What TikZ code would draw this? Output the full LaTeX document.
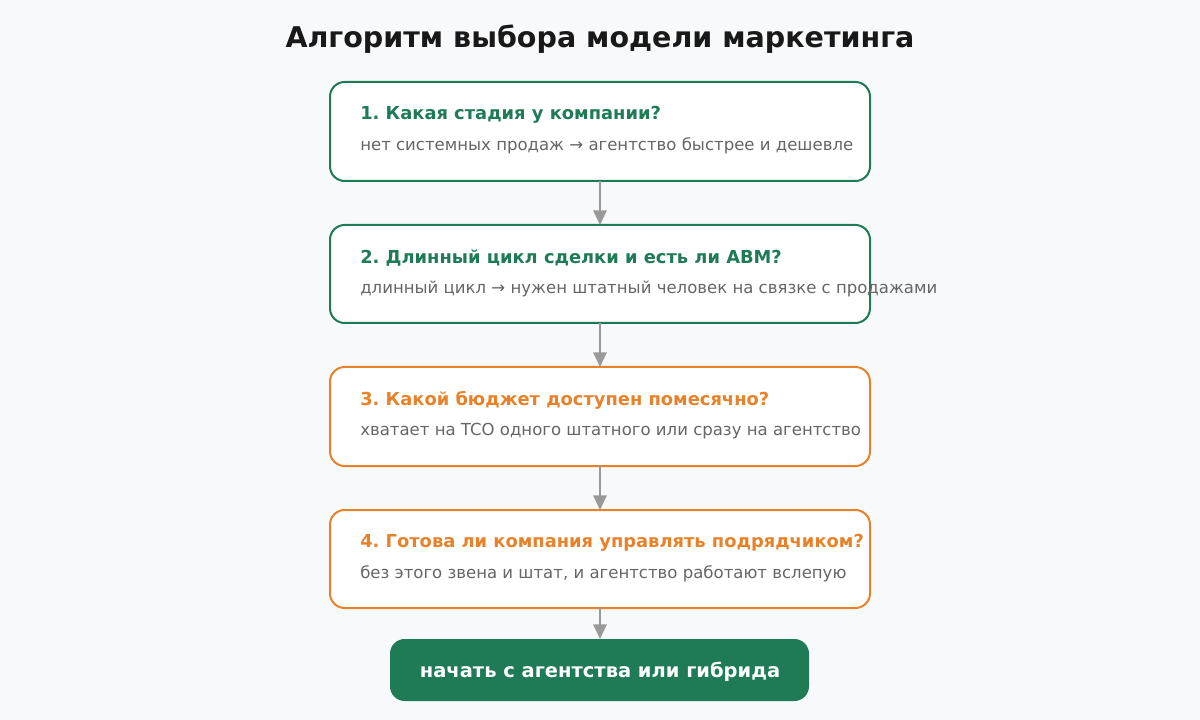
\documentclass[tikz,border=0pt]{standalone}
\usepackage{fontspec}
\setmainfont{DejaVu Sans}
\usetikzlibrary{arrows.meta}
\definecolor{grn}{HTML}{1E7B55}
\definecolor{org}{HTML}{E8822A}
\definecolor{bg}{HTML}{F8F9FA}
\definecolor{sub}{HTML}{666666}
\definecolor{arr}{HTML}{999999}
\frenchspacing
\begin{document}
\begin{tikzpicture}[x=0.75pt,y=-0.75pt,
  box/.style={draw=#1,line width=1.5pt,fill=white,rounded corners=11pt},
  hd/.style={anchor=west,font=\bfseries\fontsize{13.4}{15}\selectfont,text=#1,inner sep=0},
  sb/.style={anchor=west,font=\fontsize{12.4}{14}\selectfont,text=sub,inner sep=0},
  ar/.style={draw=arr,line width=1.5pt,-{Triangle[length=11pt,width=10pt]}}]
\fill[bg] (0,0) rectangle (1200,720);
\node[font=\bfseries\fontsize{21.4}{25}\selectfont,text=black!90] (title) at (600,39) {Алгоритм выбора модели маркетинга};
\draw[box=grn] (330,82) rectangle (870,181);
\coordinate (b1s) at (600,181);
\node[hd=grn] (h1) at (360,115) {1. Какая стадия у компании?};
\node[sb] (s1) at (360,146) {нет системных продаж → агентство быстрее и дешевле};
\draw[box=grn] (330,225) rectangle (870,323);
\coordinate (b2n) at (600,225); \coordinate (b2s) at (600,323);
\node[hd=grn] (h2) at (360,258) {2. Длинный цикл сделки и есть ли ABM?};
\node[sb] (s2) at (360,289) {длинный цикл → нужен штатный человек на связке с продажами};
\draw[box=org] (330,367) rectangle (870,466);
\coordinate (b3n) at (600,367); \coordinate (b3s) at (600,466);
\node[hd=org] (h3) at (360,400) {3. Какой бюджет доступен помесячно?};
\node[sb] (s3) at (360,431) {хватает на TCO одного штатного или сразу на агентство};
\draw[box=org] (330,510) rectangle (870,608);
\coordinate (b4n) at (600,510); \coordinate (b4s) at (600,608);
\node[hd=org] (h4) at (360,543) {4. Готова ли компания управлять подрядчиком?};
\node[sb] (s4) at (360,574) {без этого звена и штат, и агентство работают вслепую};
\fill[grn,rounded corners=11pt] (390,639) rectangle (809,701);
\coordinate (b5n) at (600,639);
\node[font=\bfseries\fontsize{14.6}{17}\selectfont,text=white] (fin) at (600,672) {начать с агентства или гибрида};
\draw[ar] (b1s) -- (b2n);
\draw[ar] (b2s) -- (b3n);
\draw[ar] (b3s) -- (b4n);
\draw[ar] (b4s) -- (b5n);
\end{tikzpicture}
\end{document}
